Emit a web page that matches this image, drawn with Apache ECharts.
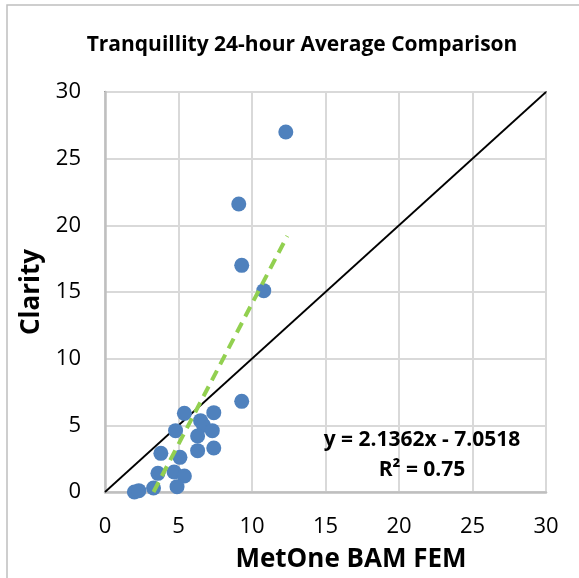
<!DOCTYPE html>
<html>
<head>
<meta charset="utf-8">
<script src="https://cdn.jsdelivr.net/npm/echarts@6/dist/echarts.min.js"></script>
<style>
  html, body { margin: 0; padding: 0; background: #fff; }
  #chart { width: 579px; height: 578px; }
</style>
</head>
<body>
<div id="chart"></div>
<script>
// MetOne BAM FEM (x) vs Clarity (y), 24-hour averages
const metone = [12.3, 9.1, 9.3, 10.8, 9.3, 5.4, 7.4, 6.5, 6.7, 7.3, 6.3, 4.8, 7.4, 6.3, 3.8, 5.1, 3.6, 4.7, 5.4, 4.9, 2.0, 2.3, 3.3, 3.2]
const clarity = [27.0, 21.6, 17.0, 15.1, 6.8, 5.9, 5.95, 5.35, 5.0, 4.6, 4.2, 4.6, 3.3, 3.1, 2.9, 2.6, 1.4, 1.5, 1.2, 0.4, 0.0, 0.1, 0.3, -0.1]

// linear fit line ends and 1:1 line
const trendX = [3.3, 12.4]
const trendY = [0.0, 19.2]
const oneToOneX = [0, 30]
const oneToOneY = [0, 30]

const fitText = 'y = 2.1362x - 7.0518'
const r2Text = 'R² = 0.75'

const font = 'Open Sans'

const myChart = echarts.init(document.getElementById('chart'))

const option = {
  animation: false,
  backgroundColor: '#fff',
  title: {
    text: 'Tranquillity 24-hour Average Comparison',
    left: 297,
    top: 30,
    textAlign: 'center',
    textStyle: { fontFamily: font, fontWeight: 'bold', fontSize: 21, color: '#000' }
  },
  grid: {
    left: 105,
    right: 33,
    top: 92,
    bottom: 84,
    show: true,
    borderColor: '#000',
    borderWidth: 1.5
  },
  xAxis: {
    type: 'value',
    min: 0,
    max: 30,
    interval: 5,
    name: 'MetOne BAM FEM',
    nameLocation: 'middle',
    nameGap: 55,
    nameTextStyle: { fontFamily: font, fontWeight: 'bold', fontSize: 26, color: '#000', padding: [0, 0, 0, 51] },
    axisLine: { lineStyle: { color: '#bfbfbf', width: 2.5 } },
    axisTick: { show: false },
    axisLabel: { fontFamily: font, fontSize: 22, color: '#000', margin: 24 },
    splitLine: { lineStyle: { color: '#d9d9d9', width: 2 } }
  },
  yAxis: {
    type: 'value',
    min: 0,
    max: 30,
    interval: 5,
    name: 'Clarity',
    nameLocation: 'middle',
    nameGap: 54,
    nameTextStyle: { fontFamily: font, fontWeight: 'bold', fontSize: 26, color: '#000' },
    axisLine: { show: true, lineStyle: { color: '#bfbfbf', width: 2.5 } },
    axisTick: { show: false },
    axisLabel: { fontFamily: font, fontSize: 22, color: '#000', margin: 24 },
    splitLine: { lineStyle: { color: '#d9d9d9', width: 2 } }
  },
  graphic: [
    // outer chart frame (only top/left edges show in the crop)
    {
      type: 'rect',
      shape: { x: 7, y: 5, width: 620, height: 620 },
      style: { fill: 'none', stroke: '#bfbfbf', lineWidth: 1.5 },
      z: 100
    },
    {
      type: 'text',
      style: {
        x: 422, y: 440, text: fitText, textAlign: 'center', textVerticalAlign: 'middle',
        fontFamily: font, fontWeight: 'bold', fontSize: 21, fill: '#000'
      },
      z: 100
    },
    {
      type: 'text',
      style: {
        x: 422, y: 470, text: r2Text, textAlign: 'center', textVerticalAlign: 'middle',
        fontFamily: font, fontWeight: 'bold', fontSize: 21, fill: '#000'
      },
      z: 100
    }
  ],
  series: [
    {
      name: '1:1',
      type: 'line',
      data: oneToOneX.map((x, i) => [x, oneToOneY[i]]),
      showSymbol: false,
      lineStyle: { color: '#000', width: 1.8 },
      z: 2
    },
    {
      name: 'Clarity',
      type: 'scatter',
      data: metone.map((x, i) => [x, clarity[i]]),
      symbolSize: 15,
      itemStyle: { color: '#4f81bd', opacity: 1 },
      z: 3
    },
    {
      name: 'Linear fit',
      type: 'line',
      data: trendX.map((x, i) => [x, trendY[i]]),
      showSymbol: false,
      lineStyle: { color: '#92d050', width: 4, type: [11, 7] },
      z: 4
    }
  ]
}

myChart.setOption(option)
</script>
</body>
</html>
